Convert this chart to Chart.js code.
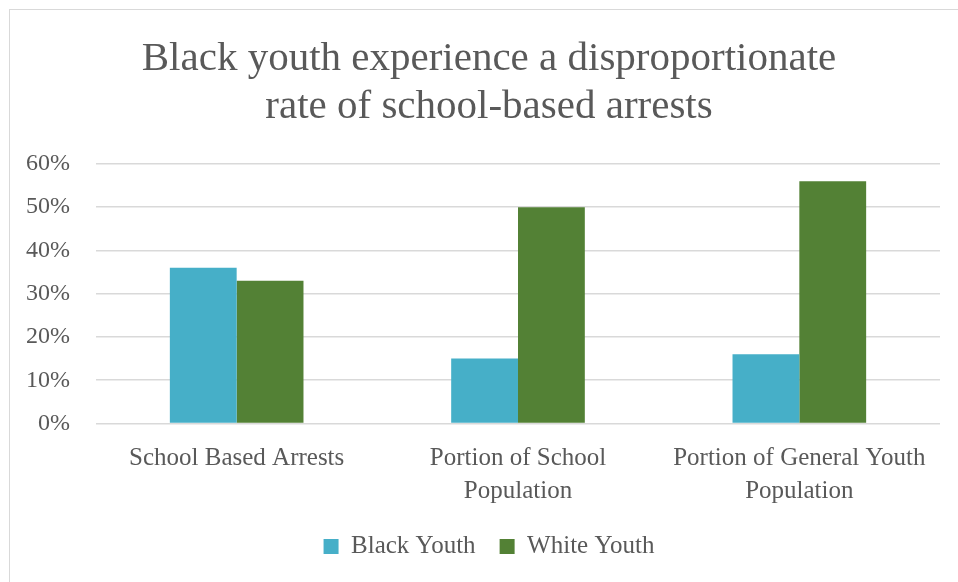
<!DOCTYPE html>
<html>
<head>
<meta charset="utf-8">
<script src="https://cdn.jsdelivr.net/npm/chart.js@4"></script>
<style>
  html, body { margin: 0; padding: 0; background: #fff; overflow: hidden; }
  body { width: 958px; height: 582px; position: relative; }
  #frame { position: absolute; left: 9px; top: 9px; width: 1100px; height: 800px; border: 1px solid #d9d9d9; }
  #wrap { position: absolute; left: 10px; top: 0; width: 958px; height: 582px; }
</style>
</head>
<body>
<div id="frame"></div>
<div id="wrap"><canvas id="barChart" width="958" height="582"></canvas></div>
<script>
var categories = [
  "School Based Arrests",
  ["Portion of School", "Population"],
  ["Portion of General Youth", "Population"]
];
var black_youth = [36, 15, 16];
var white_youth = [33, 50, 56];
var tick_labels = ["0%", "10%", "20%", "30%", "40%", "50%", "60%"];

var textColor = "#595959";
var fontFamily = "'Liberation Serif', 'Times New Roman', serif";

var ctx = document.getElementById("barChart").getContext("2d");
var barChart = new Chart(ctx, {
  type: "bar",
  data: {
    labels: categories,
    datasets: [
      {
        label: "Black Youth",
        data: black_youth,
        backgroundColor: "#46AFC8",
        categoryPercentage: 0.475,
        barPercentage: 1.0
      },
      {
        label: "White Youth",
        data: white_youth,
        backgroundColor: "#538135",
        categoryPercentage: 0.475,
        barPercentage: 1.0
      }
    ]
  },
  options: {
    responsive: false,
    animation: false,
    layout: {
      padding: { left: 10, right: 10, top: 0, bottom: 13 }
    },
    plugins: {
      title: {
        display: true,
        text: ["Black youth experience a disproportionate", "rate of school-based arrests"],
        color: textColor,
        font: { family: fontFamily, size: 41, weight: "normal", lineHeight: 1.17 },
        padding: { top: 35, bottom: 33 }
      },
      legend: {
        position: "bottom",
        labels: {
          color: textColor,
          font: { family: fontFamily, size: 25 },
          boxWidth: 15,
          boxHeight: 15,
          padding: 24
        }
      },
      tooltip: { enabled: false }
    },
    scales: {
      x: {
        grid: { display: false, drawTicks: false },
        border: { display: false },
        ticks: {
          color: textColor,
          font: { family: fontFamily, size: 25, lineHeight: 1.32 },
          maxRotation: 0,
          padding: 18
        },
        afterFit: function (scale) {
          scale.height = 86.5;
        }
      },
      y: {
        min: 0,
        max: 60,
        grid: { color: "#d9d9d9", lineWidth: 1.5, drawTicks: false },
        border: { display: false },
        ticks: {
          stepSize: 10,
          color: textColor,
          font: { family: fontFamily, size: 24 },
          padding: 26,
          callback: function (value) {
            return tick_labels[value / 10];
          }
        },
        afterFit: function (scale) {
          scale.width = 76;
        }
      },
      spacer: {
        type: "linear",
        position: "right",
        grid: { display: false, drawTicks: false },
        border: { display: false },
        ticks: { display: false },
        afterFit: function (scale) {
          scale.width = 18;
        }
      }
    }
  }
});
</script>
</body>
</html>
